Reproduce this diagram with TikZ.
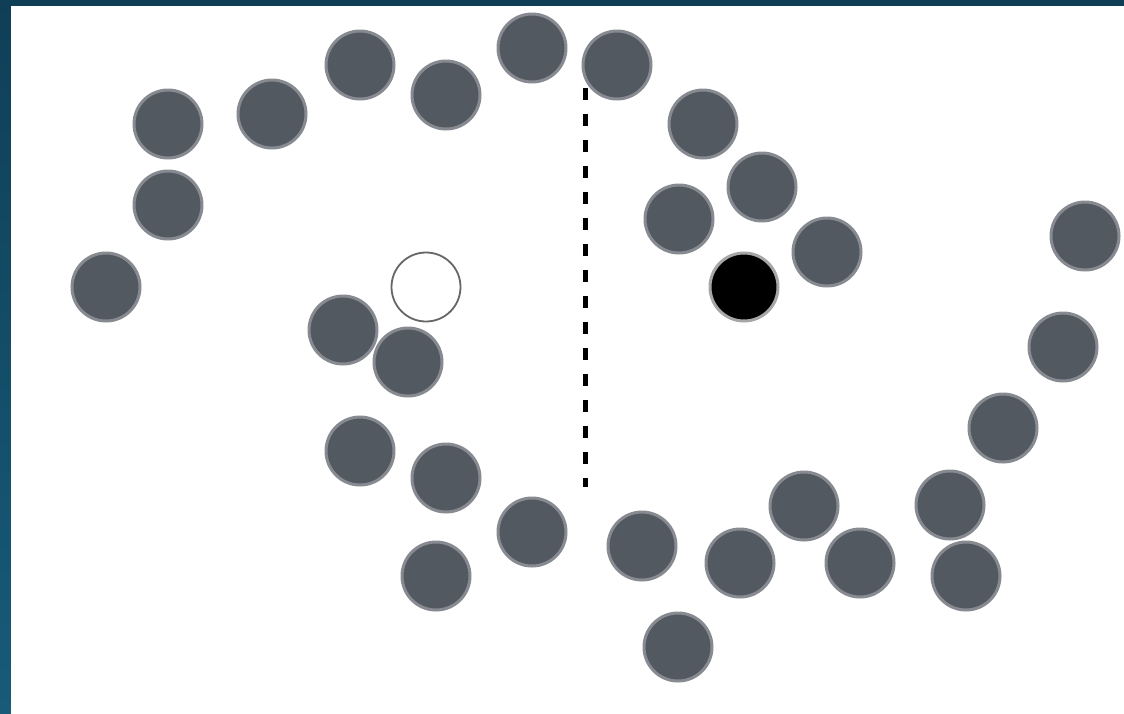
\documentclass[tikz,border=0pt]{standalone}
\begin{document}
\begin{tikzpicture}[x=1pt,y=-1pt,
  dot/.style={circle,minimum size=68pt,inner sep=0pt,fill=dotfill,draw=dotedge,line width=3pt},
  opendot/.style={circle,minimum size=69pt,inner sep=0pt,fill=white,draw=gray!80!black,line width=1.8pt},
  blackdot/.style={circle,minimum size=68pt,inner sep=0pt,fill=black,draw=gray!70,line width=3pt}]
\definecolor{dotfill}{HTML}{535961}
\definecolor{dotedge}{HTML}{878B91}
\definecolor{bordertop}{HTML}{0F3F57}
\definecolor{borderbot}{HTML}{175B79}
\useasboundingbox (0,0) rectangle (1124,713);
\shade[top color=bordertop,bottom color=borderbot] (0,0) rectangle (1124,713);
\fill[white] (11,6) rectangle (1126,716);
\foreach \n/\x/\y in {a/168/124, b/272/114, c/360/65, d/446/95, e/532/48, f/617/65,
  g/703/124, h/762/187, i/679/219, j/827/252, k/168/205, l/106/287, m/343/330,
  n/408/362, o/360/451, p/446/478, q/436/576, r/532/532, s/642/546, t/740/563,
  u/804/506, v/860/563, w/678/647, x/950/505, y/966/576, z/1003/428, aa/1063/347, ab/1085/236}
  \node[dot] (\n) at (\x,\y) {};
\node[opendot] (open) at (426,287) {};
\node[blackdot] (black) at (744,287) {};
\coordinate (top) at (585,88);
\coordinate (bot) at (585,487);
\draw[line width=5pt,dash pattern=on 12pt off 14pt] (top) -- (bot);
\end{tikzpicture}
\end{document}
